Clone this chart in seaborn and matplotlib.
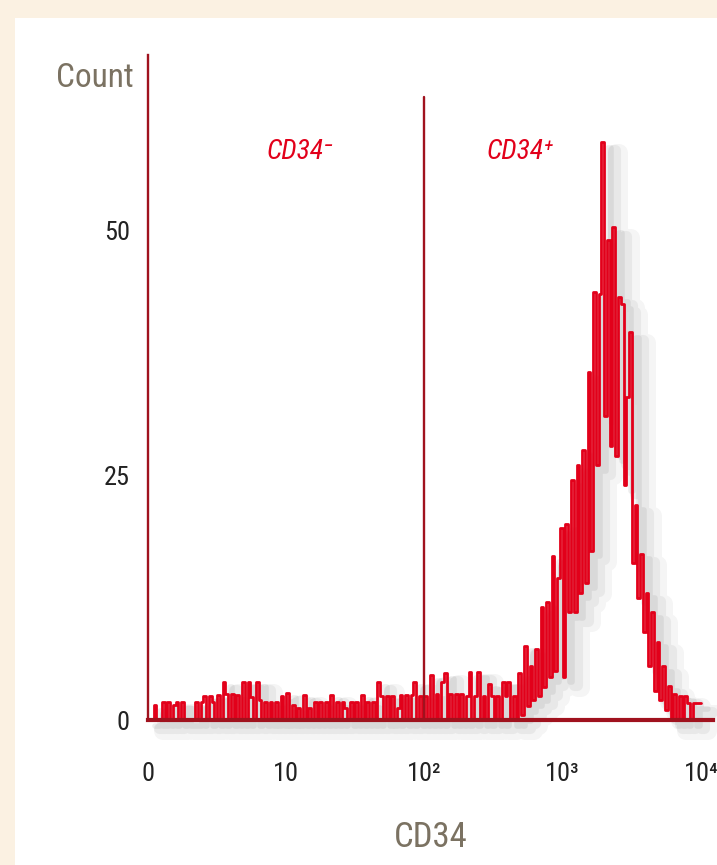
import numpy as np
import pandas as pd
import seaborn as sns
import matplotlib.pyplot as plt
import matplotlib.patheffects as pe
from matplotlib.patches import Rectangle

# CD34 fluorescence histogram, 200 channels over four decades
n_bins = 200
decades = 4

# counts per channel (channels 0-133: negative baseline)
counts_low = [
    0, 0, 1.5, 0, 0, 1.8, 0, 1.8, 0, 1.5,
    1.8, 0, 1.8, 0, 0, 0, 0, 1.8, 0, 1.8,
    2.5, 0, 2.5, 1.8, 0, 2.6, 0, 3.9, 2.7, 0,
    2.7, 0, 2.6, 0, 3.9, 0, 3.9, 2.3, 0, 3.9,
    2.0, 0, 1.8, 0, 1.8, 0, 1.8, 0, 2.5, 0,
    2.8, 0, 1.5, 0, 1.2, 0, 2.6, 0, 1.2, 0,
    1.8, 0, 1.8, 0, 1.8, 0, 2.6, 0, 1.8, 0,
    1.8, 1.2, 0, 1.8, 0, 1.8, 0, 2.6, 0, 1.8,
    0, 1.8, 0, 3.9, 2.5, 0, 2.5, 0, 2.5, 0,
    1.2, 2.6, 0, 2.6, 0, 2.6, 3.9, 0, 2.5, 0,
    2.5, 0, 4.6, 0, 2.7, 0, 3.9, 4.8, 0, 2.7,
    0, 2.7, 0, 2.7, 0, 2.4, 4.9, 0, 2.4, 4.9,
    0, 2.5, 0, 3.7, 2.5, 0, 2.5, 0, 3.9, 2.5,
    3.9, 0, 2.4, 0,
]
# channels 134-199: CD34+ peak
counts_high = [
    4.8, 0.5, 7.6, 1.4, 5.5, 2.0, 7.2, 2.5, 11.5, 3.4,
    12.0, 4.4, 16.7, 5.0, 14.5, 19.6, 4.4, 20.0, 11.0, 24.5,
    11.0, 26.0, 13.0, 27.6, 14.0, 35.5, 17.3, 43.7, 26.0, 43.5,
    59.0, 31.0, 49.0, 28.0, 50.3, 27.0, 43.2, 42.5, 24.0, 33.0,
    39.6, 16.0, 22.0, 12.5, 17.0, 9.0, 13.0, 5.5, 11.0, 3.0,
    8.0, 2.0, 5.5, 1.0, 3.5, 0, 2.7, 0, 2.5, 0,
    2.5, 1.7, 0, 1.7, 1.7, 1.7,
]

tick_pos = [0, 1, 2, 3, 4]
tick_labels = ['0', '10', '10²', '10³', '10⁴']
y_ticks = [0, 25, 50]
gate = 2  # 10^2 boundary between CD34- and CD34+

RED = '#e2001a'
DARK_RED = '#a0121e'
TAUPE = '#7b7262'
CREAM = '#fbf1e2'

edges = np.linspace(0, decades, n_bins + 1).tolist()
df = pd.DataFrame({'cd34': [(a + b) / 2 for a, b in zip(edges[:-1], edges[1:])],
                   'count': counts_low + counts_high})

sns.set_style('white')
plt.rcParams['font.family'] = ['Liberation Sans Narrow', 'Roboto Condensed',
                               'DejaVu Sans']

fig = plt.figure(figsize=(7.17, 8.65), dpi=100, facecolor=CREAM)
fig.add_artist(Rectangle((15 / 717, 0), 1, 1 - 18 / 865, transform=fig.transFigure,
                         facecolor='white', edgecolor='none', zorder=0))
ax = fig.add_axes([148 / 717, 1 - 720 / 865, 565 / 717, 665 / 865])
ax.set_facecolor('none')

# soft drop shadow down and to the right of the trace
shadow = [
    pe.SimpleLineShadow(offset=(11, -8), shadow_color='0.35', alpha=0.06, linewidth=13),
    pe.SimpleLineShadow(offset=(8, -6), shadow_color='0.35', alpha=0.08, linewidth=8),
    pe.SimpleLineShadow(offset=(5, -4), shadow_color='0.35', alpha=0.10, linewidth=4),
    pe.Normal(),
]
sns.histplot(data=df, x='cd34', weights='count', bins=edges, element='step',
             fill=False, color=RED, linewidth=2.0, ax=ax, clip_on=False,
             path_effects=shadow)

ax.axvline(gate, ymax=63.6 / 67.9, color=DARK_RED, lw=1.7, zorder=3)

ax.set_xlim(0, 4.087)
ax.set_ylim(0, 67.9)
for s in ['top', 'right']:
    ax.spines[s].set_visible(False)
ax.spines['left'].set_color(DARK_RED)
ax.spines['left'].set_linewidth(1.7)
ax.spines['bottom'].set_color(DARK_RED)
ax.spines['bottom'].set_linewidth(3)
ax.spines['bottom'].set_zorder(4)

ax.set_xticks(tick_pos)
ax.set_xticklabels(tick_labels)
ax.set_yticks(y_ticks)
ax.tick_params(axis='x', direction='out', length=17, width=1.5, color=DARK_RED,
               labelsize=19, labelcolor='#222222', pad=13)
ax.tick_params(axis='y', direction='out', length=8, width=3, color=DARK_RED,
               labelsize=19, labelcolor='#222222', pad=5)

ax.set_xlabel('CD34', fontsize=25, color=TAUPE, va='top')
ax.xaxis.set_label_coords(0.5, -0.152)
ax.set_ylabel('Count', fontsize=24, color=TAUPE, rotation=0, ha='right', va='center')
ax.yaxis.set_label_coords(-0.026, 0.966)

ax.text(1.10, 58, 'CD34⁻', color=RED, fontsize=20, style='italic',
        ha='center', va='center')
ax.text(2.69, 58, 'CD34⁺', color=RED, fontsize=20, style='italic',
        ha='center', va='center')

fig.savefig('out.png', dpi=100, facecolor=fig.get_facecolor())
